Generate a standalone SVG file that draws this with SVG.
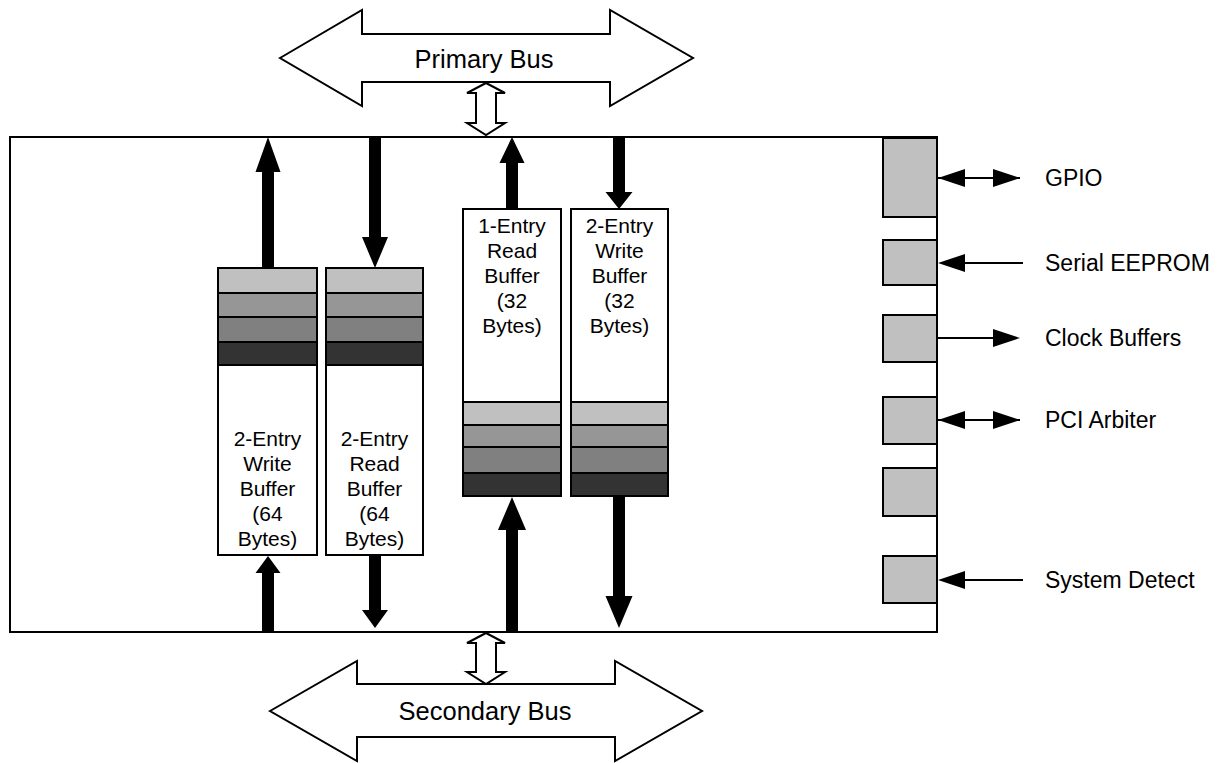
<svg xmlns="http://www.w3.org/2000/svg" width="1222" height="763" viewBox="0 0 1222 763">
<defs>
<style>
text{font-family:"Liberation Sans",Arial,Helvetica,sans-serif;fill:#000}
.bus{fill:#fff;stroke:#000;stroke-width:2;stroke-linejoin:miter}
.box{fill:#fff;stroke:#000;stroke-width:2}
.blk{fill:#000;stroke:none}
.s1{fill:#c0c0c0;stroke:#000;stroke-width:2}
.s2{fill:#969696;stroke:#000;stroke-width:2}
.s3{fill:#808080;stroke:#000;stroke-width:2}
.s4{fill:#333333;stroke:#000;stroke-width:2}
.io{fill:#c0c0c0;stroke:#000;stroke-width:2}
.ln{stroke:#000;stroke-width:2;fill:none}
.bl{font-size:25.5px;text-anchor:middle}
.bt{font-size:21px;text-anchor:middle}
.lb{font-size:23px}
</style>
</defs>

<g id="chip">
<rect class="box" x="10" y="137" width="927" height="495"/>
</g>

<g id="primary-bus">
<polygon class="bus" points="280,58 362,10 362,34 610,34 610,10 693,58 610,106 610,82 362,82 362,106"/>
<text class="bl" x="484" y="68">Primary Bus</text>
</g>

<g id="secondary-bus">
<polygon class="bus" points="270,711 357,661 357,684 615,684 615,661 702,711 615,761 615,737 357,737 357,761"/>
<text class="bl" x="485" y="720">Secondary Bus</text>
</g>

<g id="buf-write64">
<rect class="box" x="218" y="268" width="99" height="287"/>
<rect class="s1" x="218" y="268" width="99" height="25"/>
<rect class="s2" x="218" y="293" width="99" height="24"/>
<rect class="s3" x="218" y="317" width="99" height="25"/>
<rect class="s4" x="218" y="342" width="99" height="23"/>
<text class="bt" x="267.5"><tspan x="267.5" y="446">2-Entry</tspan><tspan x="267.5" y="471">Write</tspan><tspan x="267.5" y="496">Buffer</tspan><tspan x="267.5" y="521">(64</tspan><tspan x="267.5" y="546">Bytes)</tspan></text>
</g>

<g id="buf-read64">
<rect class="box" x="326" y="268" width="97" height="287"/>
<rect class="s1" x="326" y="268" width="97" height="25"/>
<rect class="s2" x="326" y="293" width="97" height="24"/>
<rect class="s3" x="326" y="317" width="97" height="25"/>
<rect class="s4" x="326" y="342" width="97" height="23"/>
<text class="bt" x="374.5"><tspan x="374.5" y="446">2-Entry</tspan><tspan x="374.5" y="471">Read</tspan><tspan x="374.5" y="496">Buffer</tspan><tspan x="374.5" y="521">(64</tspan><tspan x="374.5" y="546">Bytes)</tspan></text>
</g>

<g id="buf-read32">
<rect class="box" x="463" y="209" width="98" height="287"/>
<rect class="s1" x="463" y="402" width="98" height="23"/>
<rect class="s2" x="463" y="425" width="98" height="22"/>
<rect class="s3" x="463" y="447" width="98" height="26"/>
<rect class="s4" x="463" y="473" width="98" height="23"/>
<text class="bt" x="512"><tspan x="512" y="233">1-Entry</tspan><tspan x="512" y="258">Read</tspan><tspan x="512" y="283">Buffer</tspan><tspan x="512" y="308">(32</tspan><tspan x="512" y="333">Bytes)</tspan></text>
</g>

<g id="buf-write32">
<rect class="box" x="571" y="209" width="97" height="287"/>
<rect class="s1" x="571" y="402" width="97" height="23"/>
<rect class="s2" x="571" y="425" width="97" height="22"/>
<rect class="s3" x="571" y="447" width="97" height="26"/>
<rect class="s4" x="571" y="473" width="97" height="23"/>
<text class="bt" x="619.5"><tspan x="619.5" y="233">2-Entry</tspan><tspan x="619.5" y="258">Write</tspan><tspan x="619.5" y="283">Buffer</tspan><tspan x="619.5" y="308">(32</tspan><tspan x="619.5" y="333">Bytes)</tspan></text>
</g>

<g id="io-gpio"><rect class="io" x="883" y="138" width="54" height="79"/><text class="lb" x="1045" y="186">GPIO</text></g>
<g id="io-eeprom"><rect class="io" x="883" y="240" width="54" height="45"/><text class="lb" x="1045" y="271">Serial EEPROM</text></g>
<g id="io-clock"><rect class="io" x="883" y="315" width="54" height="47"/><text class="lb" x="1045" y="346">Clock Buffers</text></g>
<g id="io-arbiter"><rect class="io" x="883" y="397" width="54" height="47"/><text class="lb" x="1045" y="428">PCI Arbiter</text></g>
<g id="io-blank"><rect class="io" x="883" y="468" width="54" height="48"/></g>
<g id="io-sysdetect"><rect class="io" x="883" y="556" width="54" height="47"/><text class="lb" x="1045" y="588">System Detect</text></g>

<g id="connectors">
<polygon class="bus" points="486,83 505,93 496,93 496,123 505,123 486,135 467,123 476,123 476,93 467,93"/>
<polygon class="bus" points="486,633 505,643 496,643 496,672 505,672 486,684 467,672 476,672 476,643 467,643"/>

<polygon class="blk" points="262,268 262,172 255.5,172 268,137 280.5,172 274,172 274,268"/>
<polygon class="blk" points="369,137 369,237 362,237 375,268 388,237 381,237 381,137"/>
<polygon class="blk" points="506,209 506,163 499.5,163 512,137 524.5,163 518,163 518,209"/>
<polygon class="blk" points="613,137 613,192 605.5,192 619,209 632.5,192 625,192 625,137"/>

<polygon class="blk" points="262,631 262,573 255.5,573 268,556 280.5,573 274,573 274,631"/>
<polygon class="blk" points="369,555 369,610 362,610 375,628 388,610 381,610 381,555"/>
<polygon class="blk" points="506,631 506,530 498,530 512,497 526,530 518,530 518,631"/>
<polygon class="blk" points="613,496 613,596 605.5,596 619,628 632.5,596 625,596 625,496"/>

<path d="M938,178 L1020,178" class="ln"/>
<polygon class="blk" points="938,178 965,169 965,187"/>
<polygon class="blk" points="1020,178 993,169 993,187"/>

<path d="M965,263 L1023,263" class="ln"/>
<polygon class="blk" points="938,263 965,254 965,272"/>

<path d="M937,338 L995,338" class="ln"/>
<polygon class="blk" points="1020,338 993,329 993,347"/>

<path d="M938,420 L1020,420" class="ln"/>
<polygon class="blk" points="938,420 965,411 965,429"/>
<polygon class="blk" points="1020,420 993,411 993,429"/>

<path d="M965,580 L1023,580" class="ln"/>
<polygon class="blk" points="938,580 965,571 965,589"/>
</g>
</svg>
